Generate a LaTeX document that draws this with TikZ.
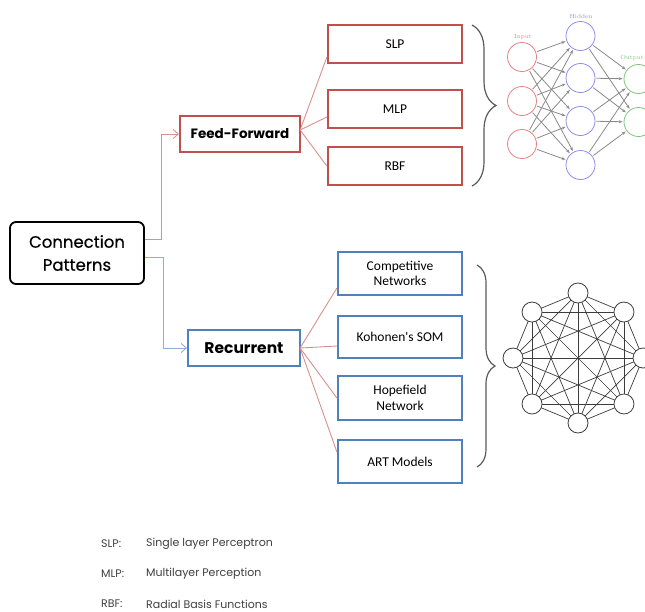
\documentclass[tikz,border=0pt]{standalone}
\usepackage{fontspec}
\setmainfont{Poppins}
\newfontfamily\rootfont[FakeBold=0.5]{Poppins}
\newfontfamily\boxfont{Carlito}
\newfontfamily\netfont{Latin Modern Roman}
\usetikzlibrary{decorations.pathreplacing,arrows.meta,calc}

\definecolor{ffred}{HTML}{C0504D}
\definecolor{recblue}{HTML}{4F81BD}
\definecolor{linkred}{HTML}{DA8F8D}
\definecolor{linkblue}{HTML}{8FAEDA}
\definecolor{bracegray}{HTML}{5A5A5A}
\definecolor{legendgray}{HTML}{3F3F3F}
\definecolor{inred}{HTML}{E88080}
\definecolor{hidblue}{HTML}{8C8CF0}
\definecolor{outgreen}{HTML}{7CC47C}
\definecolor{netgray}{HTML}{8A8A8A}
\definecolor{hopgray}{HTML}{3C3C3C}

\tikzset{
  rootbox/.style={draw=black, line width=1.8pt, rounded corners=6pt, fill=white,
    minimum width=134pt, minimum height=62pt, inner sep=0pt, align=center,
    font=\rootfont\fontsize{16.5}{23}\selectfont},
  ffbox/.style={draw=ffred, line width=2.2pt, minimum width=120pt, minimum height=36pt,
    inner sep=0pt, font=\bfseries\fontsize{13.5}{16}\selectfont},
  recbox/.style={draw=recblue, line width=2.2pt, minimum width=112pt, minimum height=36pt,
    inner sep=0pt, font=\bfseries\fontsize{15.5}{18}\selectfont},
  leafred/.style={draw=ffred, line width=2.2pt, minimum width=134pt, minimum height=38pt,
    inner sep=0pt, font=\boxfont\fontsize{13.5}{15.5}\selectfont},
  leafblue/.style={draw=recblue, line width=2.2pt, minimum width=124pt, minimum height=43pt,
    inner sep=0pt, align=center, font=\boxfont\fontsize{13.5}{15.5}\selectfont},
  linkr/.style={draw=linkred, line width=0.9pt},
  linkb/.style={draw=linkblue, line width=0.9pt},
  opentip/.style={-{Straight Barb[length=5pt,width=9pt,line width=0.9pt]}},
  groupbrace/.style={draw=bracegray, line width=1.2pt, decorate},
  legend/.style={anchor=west, text=legendgray, inner sep=0pt, font=\fontsize{11}{13}\selectfont},
  neuron/.style={circle, line width=0.8pt, minimum size=29pt, inner sep=0pt},
  netarrow/.style={draw=netgray, line width=0.8pt, -{Stealth[length=4pt,width=3pt]},
    shorten >=1pt, shorten <=1pt},
  netlabel/.style={inner sep=0pt, font=\netfont\fontsize{6}{7}\selectfont},
  hopnode/.style={circle, draw=hopgray, fill=white, line width=0.8pt, minimum size=20pt, inner sep=0pt},
  hopedge/.style={draw=hopgray, line width=0.7pt},
}

\begin{document}
\begin{tikzpicture}[x=1pt, y=-1pt]
\useasboundingbox (0,0) rectangle (645,611);
\clip (0,0) rectangle (645,611);

% ---- main tree ----
\node[rootbox] (cp) at (77,253) {Connection\\Patterns};
\node[ffbox]   (ff) at (240,134) {Feed-Forward};
\node[recbox]  (rec) at (244,348) {Recurrent};

\node[leafred] (slp) at (395,44)  {SLP};
\node[leafred] (mlp) at (395,109) {MLP};
\node[leafred] (rbf) at (395,166) {RBF};

\node[leafblue] (comp) at (400,273.5) {Competitive\\Networks};
\node[leafblue, minimum height=42pt] (koh) at (400,337) {Kohonen's SOM};
\node[leafblue, minimum height=44pt] (hop) at (400,398) {Hopefield\\Network};
\node[leafblue] (art) at (400,461.5) {ART Models};

% root to the two families
\draw[linkr, opentip] ([yshift=14pt]cp.east) -- ++(17,0) |- (ff.west);
\draw[linkb, opentip] ([yshift=-4pt]cp.east) -- ++(19,0) |- (rec.west);

% family to members
\coordinate (ffout) at ([yshift=4pt, xshift=-1pt]ff.east);
\draw[linkr] (ffout) -- ([yshift=-13pt]slp.west);
\draw[linkr] (ffout) -- ([yshift=-8pt]mlp.west);
\draw[linkr] (ffout) -- (rbf.west);

\coordinate (recout) at ([xshift=-1pt]rec.east);
\draw[linkr] (recout) -- ([yshift=-14.5pt]comp.west);
\draw[linkr] (recout) -- ([yshift=-9pt]koh.west);
\draw[linkr] (recout) -- (hop.west);
\draw[linkr] (recout) -- ([yshift=9.5pt]art.west);

% braces
\coordinate (b1top) at (472,25);
\coordinate (b1bot) at (472,186);
\draw[groupbrace, decoration={brace, amplitude=24pt}] (b1top) -- (b1bot);
\coordinate (b2top) at (477,265);
\coordinate (b2bot) at (477,467);
\draw[groupbrace, decoration={brace, amplitude=18pt}] (b2top) -- (b2bot);

% ---- layered feed-forward network ----
\foreach \i/\y in {1/57,2/101,3/144}
  \node[neuron, draw=inred] (in\i) at (522,\y) {};
\foreach \j/\y in {1/36,2/78,3/121,4/165}
  \node[neuron, draw=hidblue] (hd\j) at (580.5,\y) {};
\foreach \k/\y in {1/79,2/122}
  \node[neuron, draw=outgreen] (ot\k) at (638.5,\y) {};

\foreach \i in {1,2,3}
  \foreach \j in {1,2,3,4}
    \draw[netarrow] (in\i) -- (hd\j);
\foreach \j in {1,2,3,4}
  \foreach \k in {1,2}
    \draw[netarrow] (hd\j) -- (ot\k);

\node[netlabel, text=inred]   (inlab)  at (523,37) {Input};
\node[netlabel, text=hidblue] (hdlab)  at (581,16) {Hidden};
\node[netlabel, text=outgreen, anchor=east] (otlab) at (644,58) {Output};

% ---- fully connected recurrent network ----
\foreach \n/\a in {0/90,1/45,2/0,3/-45,4/-90,5/-135,6/180,7/135}
  \coordinate (hp\n) at ($(578,358)+(\a:65)$);
\foreach \a in {0,...,6} {
  \pgfmathtruncatemacro{\nxt}{\a+1}
  \foreach \b in {\nxt,...,7}
    \draw[hopedge] (hp\a) -- (hp\b);
}
\foreach \n in {0,...,7}
  \node[hopnode] (hn\n) at (hp\n) {};

% ---- legend ----
\node[legend] (k1) at (101,544) {SLP:};
\node[legend] (v1) at (146,544) {Single layer Perceptron};
\node[legend] (k2) at (101,574) {MLP:};
\node[legend] (v2) at (146,574) {Multilayer Perception};
\node[legend] (k3) at (101,604) {RBF:};
\node[legend] (v3) at (146,604) {Radial Basis Functions};
\end{tikzpicture}
\end{document}
